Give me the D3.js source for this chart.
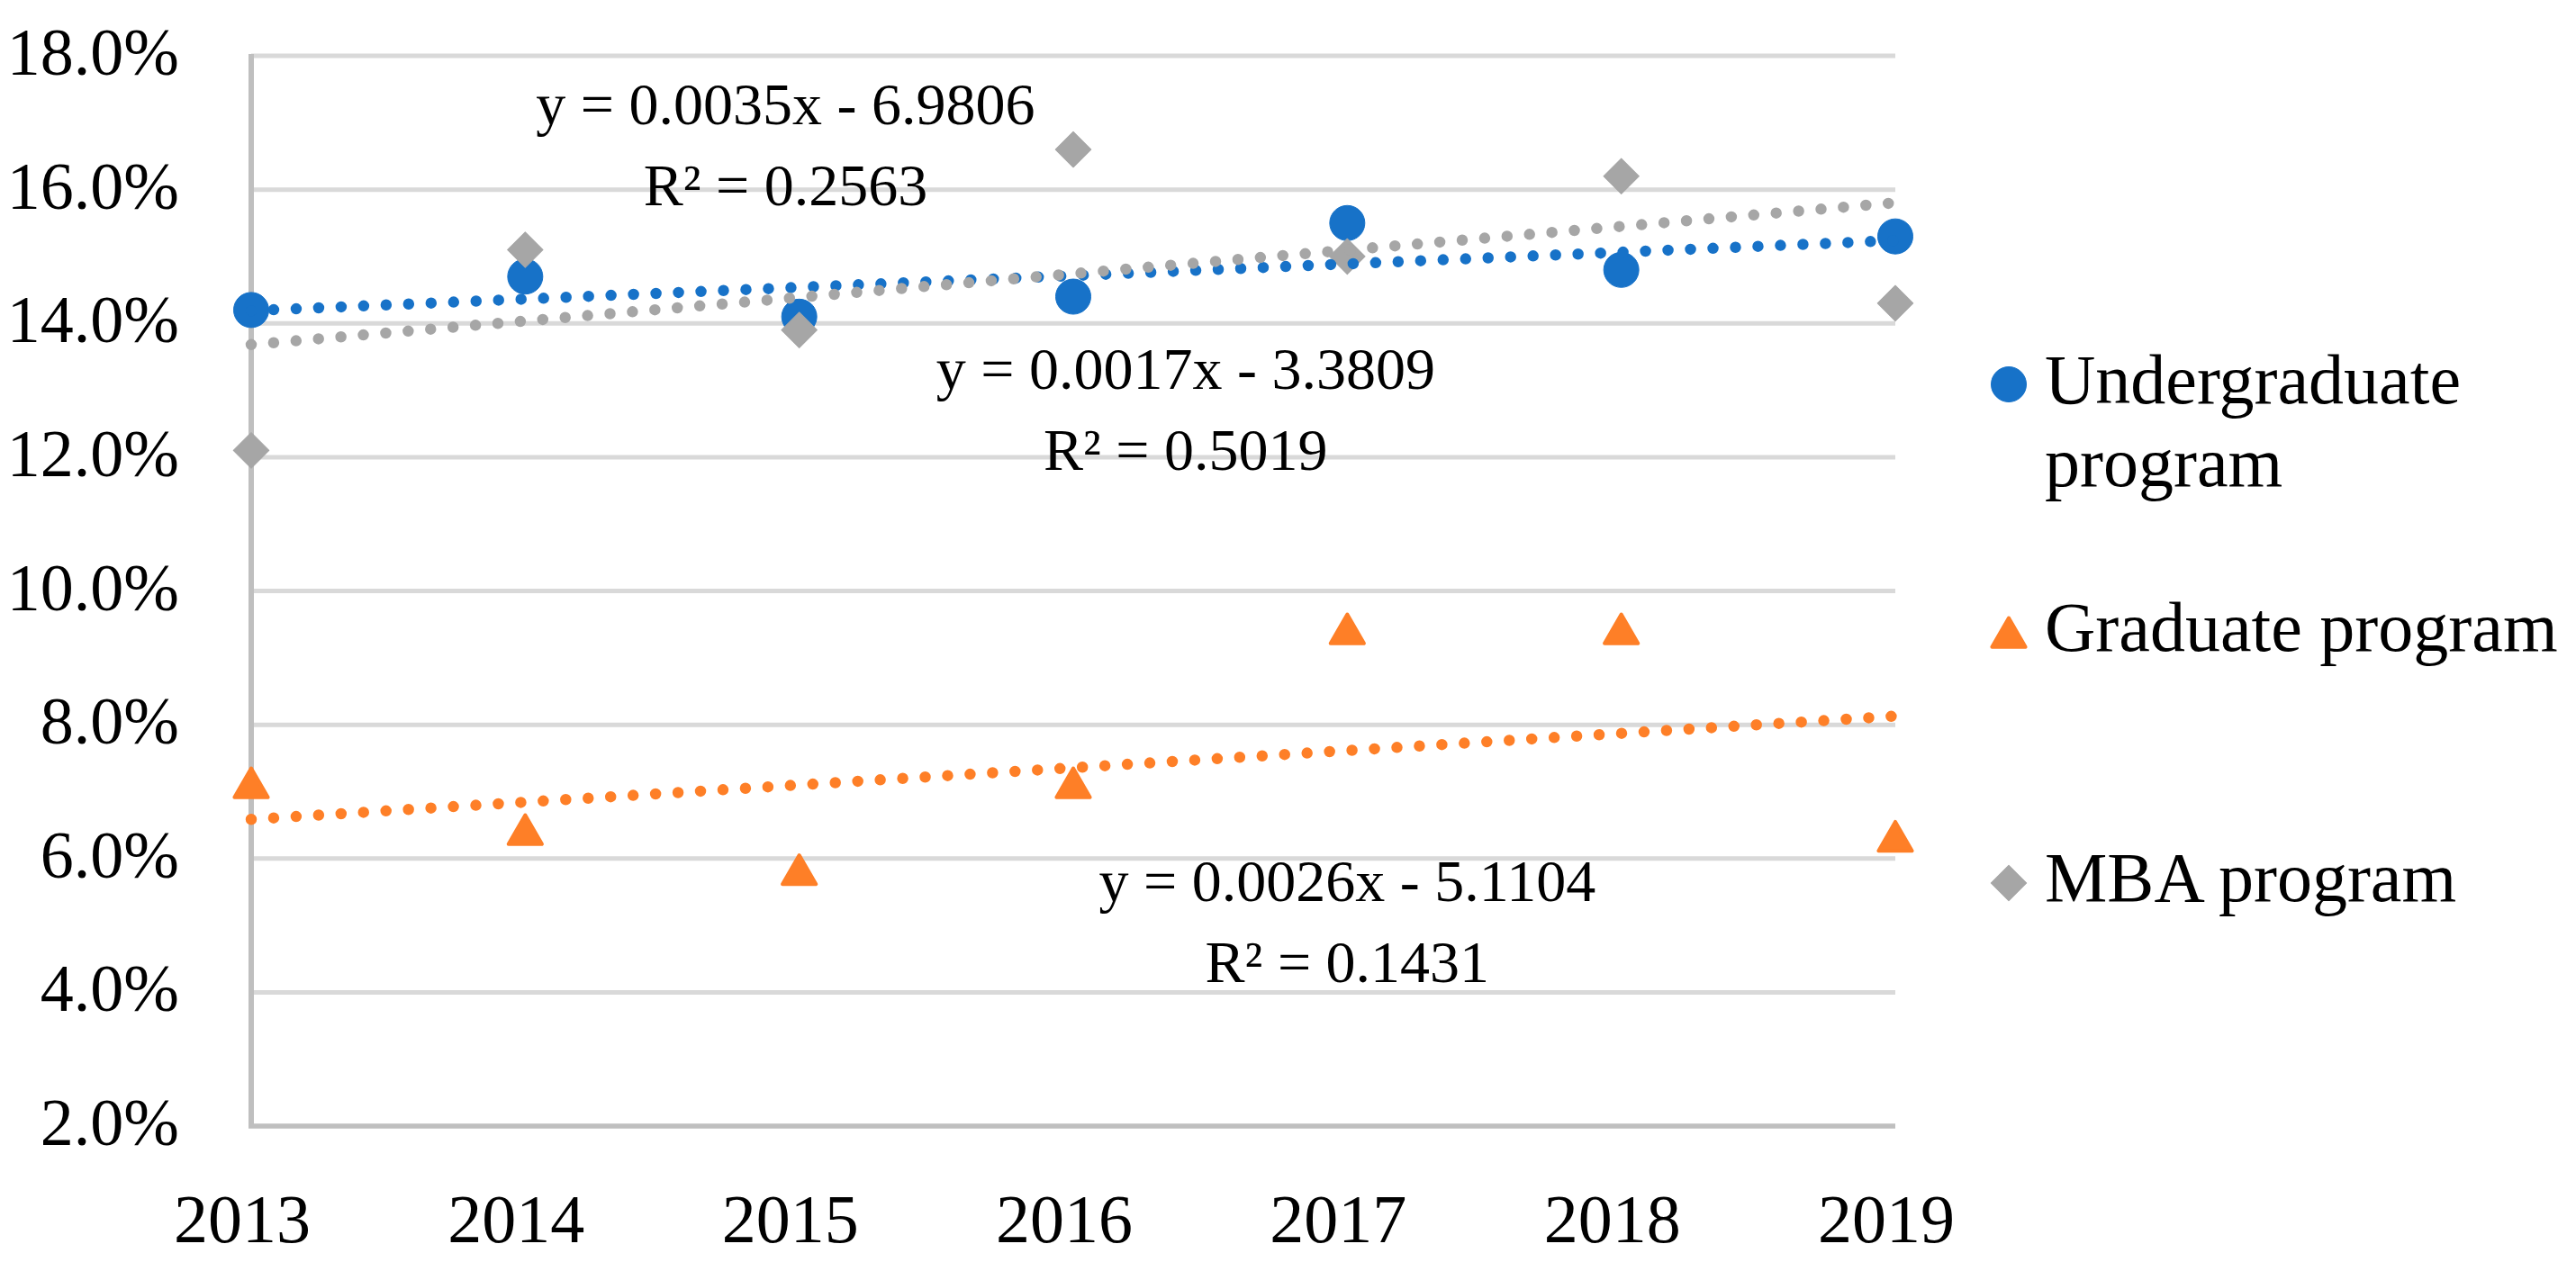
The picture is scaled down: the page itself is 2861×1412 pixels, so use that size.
<!DOCTYPE html>
<html>
<head>
<meta charset="utf-8">
<script src="https://cdn.jsdelivr.net/npm/d3@7"></script>
<style>
  body { margin: 0; background: #fff; }
  text { font-family: "Liberation Serif", "Times New Roman", serif; fill: #000; }
</style>
</head>
<body>
<div id="chart"></div>
<script>
// Data
const years = [2013, 2014, 2015, 2016, 2017, 2018, 2019];
const undergraduate = [14.2, 14.7, 14.1, 14.4, 15.5, 14.8, 15.3];
const graduate = [7.1, 6.4, 5.8, 7.1, 9.4, 9.4, 6.3];
const mba = [12.1, 15.1, 13.9, 16.6, 15.0, 16.2, 14.3];
const yTicks = [2, 4, 6, 8, 10, 12, 14, 16, 18];
const seriesNames = ['Undergraduate program', 'Graduate program', 'MBA program'];
const equations = [
  ['y = 0.0017x - 3.3809', 'R² = 0.5019'],
  ['y = 0.0026x - 5.1104', 'R² = 0.1431'],
  ['y = 0.0035x - 6.9806', 'R² = 0.2563']
];

const W = 2861, H = 1412;
const colors = ['#1772c8', '#fe7f27', '#a6a6a6'];

const svg = d3.select('#chart').append('svg')
  .attr('width', W).attr('height', H);

// Scales
const x = d3.scaleLinear().domain([2013, 2019]).range([279, 2105]);
const y = d3.scaleLinear().domain([2, 18]).range([1251, 62]);

// Gridlines
svg.append('g').selectAll('line')
  .data(yTicks.filter(d => d > 2))
  .join('line')
    .attr('x1', x(2013)).attr('x2', x(2019))
    .attr('y1', d => y(d)).attr('y2', d => y(d))
    .attr('stroke', '#d9d9d9').attr('stroke-width', 5);

// Axis lines
svg.append('line')
  .attr('x1', x(2013)).attr('x2', x(2013))
  .attr('y1', y(18) - 2).attr('y2', y(2))
  .attr('stroke', '#bfbfbf').attr('stroke-width', 6);
svg.append('line')
  .attr('x1', x(2013) - 3).attr('x2', x(2019))
  .attr('y1', y(2)).attr('y2', y(2))
  .attr('stroke', '#bfbfbf').attr('stroke-width', 5.5);

// Y tick labels
svg.append('g').selectAll('text')
  .data(yTicks)
  .join('text')
    .attr('x', 199)
    .attr('y', d => y(d) + 21)
    .attr('text-anchor', 'end')
    .style('font-size', '74px')
    .text(d => d.toFixed(1) + '%');

// X tick labels
svg.append('g').selectAll('text')
  .data(years)
  .join('text')
    .attr('x', d => x(d) - 10)
    .attr('y', 1380)
    .attr('text-anchor', 'middle')
    .style('font-size', '76px')
    .text(d => d);

// Marker shapes
const symbols = [
  d3.symbol().type(d3.symbolCircle).size(Math.PI * 19.5 * 19.5),
  d3.symbol().type(d3.symbolTriangle).size(600),
  d3.symbol().type(d3.symbolSquare).size(780)
];
const markerTransform = (i, cx, cy) => i === 2
  ? `translate(${cx},${cy}) rotate(45)`
  : i === 1 ? `translate(${cx},${cy + 3})` : `translate(${cx},${cy})`;

const allSeries = [undergraduate, graduate, mba];

// Markers
allSeries.forEach((values, i) => {
  svg.append('g').selectAll('path')
    .data(values)
    .join('path')
      .attr('d', symbols[i]())
      .attr('transform', (d, j) => markerTransform(i, x(years[j]), y(d)))
      .attr('fill', colors[i])
      .attr('stroke', colors[i])
      .attr('stroke-width', i === 1 ? 4 : 1)
      .attr('stroke-linejoin', 'round');
});

// Linear trendlines (least squares over the data)
function fit(values) {
  const mx = d3.mean(years), my = d3.mean(values);
  let sxy = 0, sxx = 0;
  years.forEach((xv, j) => { sxy += (xv - mx) * (values[j] - my); sxx += (xv - mx) ** 2; });
  const b = sxy / sxx;
  return xv => my + b * (xv - mx);
}

allSeries.forEach((values, i) => {
  const f = fit(values);
  svg.append('line')
    .attr('x1', x(2013)).attr('y1', y(f(2013)))
    .attr('x2', x(2019)).attr('y2', y(f(2019)))
    .attr('stroke', colors[i])
    .attr('stroke-width', 12.5)
    .attr('stroke-linecap', 'round')
    .attr('stroke-dasharray', '0 25');
});

// Trendline equations (anchored in data units)
const eqAnchors = [[2016.41, 13.02], [2017.0, 5.36], [2014.95, 16.98]];
equations.forEach((lines, i) => {
  const g = svg.append('g')
    .attr('transform', `translate(${x(eqAnchors[i][0])},${y(eqAnchors[i][1])})`);
  lines.forEach((t, k) => {
    g.append('text')
      .attr('x', 0).attr('y', k * 90)
      .attr('text-anchor', 'middle')
      .style('font-size', '66px')
      .text(t);
  });
});

// Legend
const legend = svg.append('g');
const legendRows = [
  { y: 427, lines: ['Undergraduate', 'program'], base: 448 },
  { y: 705, lines: ['Graduate program'], base: 723 },
  { y: 981, lines: ['MBA program'], base: 1001 }
];
legendRows.forEach((row, i) => {
  legend.append('path')
    .attr('d', symbols[i]())
    .attr('transform', markerTransform(i, 2231, row.y))
    .attr('fill', colors[i])
    .attr('stroke', colors[i])
    .attr('stroke-width', i === 1 ? 4 : 1)
    .attr('stroke-linejoin', 'round');
  row.lines.forEach((t, k) => {
    legend.append('text')
      .attr('x', 2271)
      .attr('y', row.base + k * 92)
      .style('font-size', '78px')
      .text(t);
  });
});
</script>
</body>
</html>
